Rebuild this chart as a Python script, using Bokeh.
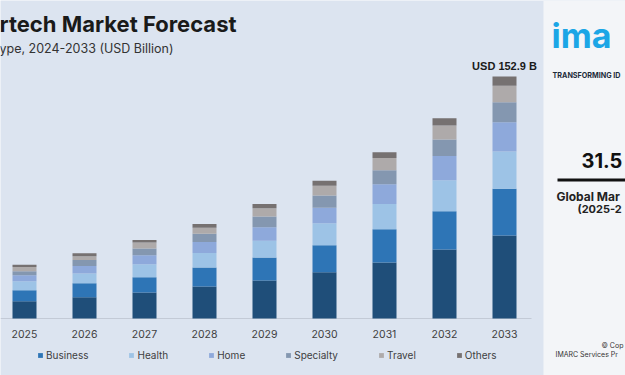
from bokeh.plotting import figure
from bokeh.models import Range1d, Label, Legend, LegendItem, BoxAnnotation, ColumnDataSource
from bokeh.core.properties import value
from bokeh.embed import file_html
from bokeh.resources import INLINE

# ---- data (USD Billion) ----
years = [2025, 2026, 2027, 2028, 2029, 2030, 2031, 2032, 2033]
year_labels = [str(y) for y in years]
auto = [10.9, 13.5, 16.4, 20.2, 24.0, 29.2, 35.4, 43.6, 52.4]
business = [6.9, 8.7, 9.7, 12.0, 14.5, 17.1, 21.0, 24.2, 29.5]
health = [5.7, 6.3, 8.2, 9.2, 10.7, 13.9, 16.0, 19.6, 23.6]
home = [3.8, 4.6, 5.7, 6.9, 8.4, 9.7, 12.4, 15.2, 18.5]
specialty = [2.5, 3.8, 4.2, 5.3, 6.8, 7.8, 8.8, 10.5, 12.6]
travel = [2.7, 2.5, 3.8, 3.8, 5.2, 6.1, 7.8, 8.8, 10.4]
others = [1.5, 1.9, 1.6, 2.3, 2.8, 3.3, 3.6, 4.6, 5.9]
series_names = ["Auto", "Business", "Health", "Home", "Specialty", "Travel", "Others"]
series_colors = ["#1f4e79", "#2e75b6", "#9dc3e6", "#8ea9db", "#8497b0", "#aeaaaa", "#767171"]

W, H = 625, 375
PX_PER_YEAR = 60.0
PX_PER_B = 242.0 / 152.9
BASE_PX = 318.0
X0 = years[0] - 24.0 / PX_PER_YEAR


def px2x(px):
    return X0 + px / PX_PER_YEAR


def px2y(py):
    return (BASE_PX - py) / PX_PER_B


src = ColumnDataSource(dict(
    year=years, label=year_labels, Auto=auto, Business=business, Health=health,
    Home=home, Specialty=specialty, Travel=travel, Others=others,
))

p = figure(width=W, height=H, output_backend="svg", toolbar_location=None,
           x_range=Range1d(X0, X0 + W / PX_PER_YEAR),
           y_range=Range1d(-(H - BASE_PX) / PX_PER_B, BASE_PX / PX_PER_B),
           x_axis_location=None, y_axis_location=None, min_border=0,
           outline_line_color=None, background_fill_color="#dce4f0",
           border_fill_color="#dce4f0")
p.xgrid.grid_line_color = None
p.ygrid.grid_line_color = None

# baseline
p.segment(x0=[X0], y0=[0], x1=[years[-1] + 0.45], y1=[0], line_color="#c3cad6", line_width=1)

rs = p.vbar_stack(series_names, x="year", width=0.4, color=series_colors,
                  line_color=None, source=src)

# year labels
p.text(x="year", y=0, text="label", source=src, y_offset=15, text_align="center",
       text_baseline="middle", text_font=value("Inter"), text_font_size=value("10.5px"),
       text_color="#404040")

totals = [round(sum(v), 1) for v in zip(auto, business, health, home, specialty, travel, others)]
p.text(x=[years[-1]], y=[totals[-1]], text=[f"USD {totals[-1]:.1f} B"], y_offset=-11,
       text_align="center", text_baseline="middle", text_font=value("Liberation Sans"),
       text_font_size=value("11px"), text_font_style="bold", text_color="#1a1a1a")

legend = Legend(items=[LegendItem(label=n, renderers=[r]) for n, r in zip(series_names[1:], rs[1:])],
                orientation="horizontal", location=(37, 14), glyph_width=6, glyph_height=6,
                label_height=12, label_standoff=3, spacing=40, padding=0, margin=0,
                label_text_font="Inter", label_text_font_size="10px", label_text_color="#404040",
                background_fill_alpha=0, border_line_color=None)
p.add_layout(legend)


def add_label(px, py, text, size, bold=False, color="#222222", font="Inter"):
    p.add_layout(Label(x=px2x(px), y=px2y(py), text=text, text_font=font, text_font_size=size,
                       text_font_style="bold" if bold else "normal", text_color=color,
                       text_baseline="middle"))


# titles
add_label(-1, 23, "rtech Market Forecast", "22px", True, "#1a1a1a")
add_label(-1, 47.5, "ype, 2024-2033 (USD Billion)", "12.5px", False, "#333333")

# right-hand panel
p.add_layout(BoxAnnotation(left=px2x(543), fill_color="#f3f5f8", fill_alpha=1, line_color=None))
add_label(551, 35, "ima", "34px", True, "#1ba6e6")
add_label(552, 75, "TRANSFORMING ID", "7.2px", True, "#1c2b3a")
add_label(581, 160, "31.5", "20px", True, "#111111")
p.add_layout(BoxAnnotation(left=px2x(557), top=px2y(178), bottom=px2y(181), fill_color="#111111",
                           fill_alpha=1, line_color=None))
add_label(556, 196, "Global Mar", "12px", True, "#222222")
add_label(577, 208, "(2025-2", "11px", True, "#222222")
add_label(601, 345, "\u00a9 Cop", "7px", False, "#333333")
add_label(555, 354, "IMARC Services Pr", "7px", False, "#333333")

open("out.html", "w").write(file_html(p, INLINE))
